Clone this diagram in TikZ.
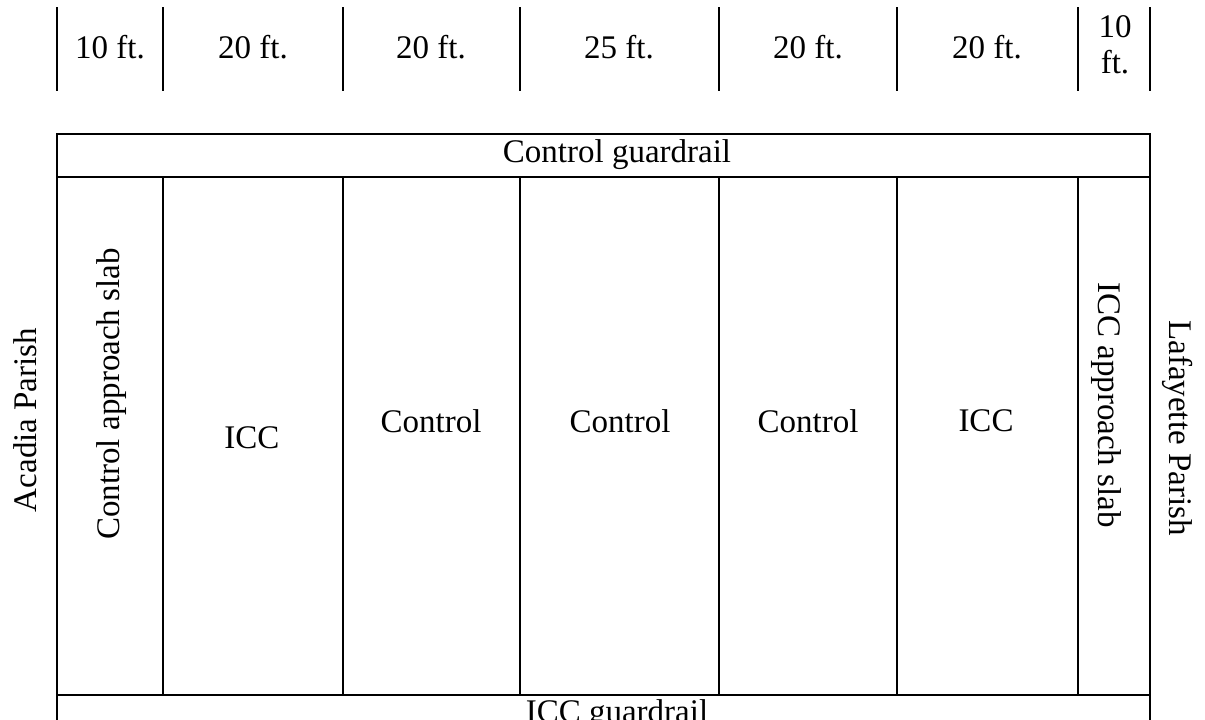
\documentclass[tikz,border=0pt]{standalone}
\usepackage{fontspec}
\setmainfont{Liberation Serif}
\usepackage{tikz}
\usetikzlibrary{positioning}

\begin{document}
\begin{tikzpicture}[x=0.5pt, y=-0.5pt, font=\fontsize{16.5}{18}\selectfont,
  wall/.style={line width=1.4pt, draw=black},
  lbl/.style={inner sep=1pt, align=center}]
  \useasboundingbox (0,0) rectangle (1205,719);

  % width ticks along the top
  \draw[wall] (57,7) -- (57,91);
  \draw[wall] (163,7) -- (163,91);
  \draw[wall] (343,7) -- (343,91);
  \draw[wall] (520,7) -- (520,91);
  \draw[wall] (719,7) -- (719,91);
  \draw[wall] (897,7) -- (897,91);
  \draw[wall] (1078,7) -- (1078,91);
  \draw[wall] (1150,7) -- (1150,91);

  \node[lbl] (w1) at (110,47) {10 ft.};
  \node[lbl] (w2) at (253,47) {20 ft.};
  \node[lbl] (w3) at (431,47) {20 ft.};
  \node[lbl] (w4) at (619,47) {25 ft.};
  \node[lbl] (w5) at (808,47) {20 ft.};
  \node[lbl] (w6) at (987,47) {20 ft.};
  \node[lbl] (w7) at (1115,45) {10\\ft.};

  % slab outline
  \draw[wall] (57,740) -- (57,134) -- (1150,134) -- (1150,740);
  \draw[wall] (57,177) -- (1150,177);
  \draw[wall] (57,695) -- (1150,695);
  \draw[wall] (163,177) -- (163,695);
  \draw[wall] (343,177) -- (343,695);
  \draw[wall] (520,177) -- (520,695);
  \draw[wall] (719,177) -- (719,695);
  \draw[wall] (897,177) -- (897,695);
  \draw[wall] (1078,177) -- (1078,695);

  \node[lbl] (topgr) at (617,155) {Control guardrail};
  \node[lbl, anchor=base] (botgr) at (617,722) {ICC guardrail};

  \node[lbl, rotate=90] (capp) at (112,394) {Control approach slab};
  \node[lbl] (s2) at (252,438) {ICC};
  \node[lbl] (s3) at (431,421) {Control};
  \node[lbl] (s4) at (620,421) {Control};
  \node[lbl] (s5) at (808,421) {Control};
  \node[lbl] (s6) at (986,421) {ICC};
  \node[lbl, rotate=-90] (iapp) at (1106,405) {ICC approach slab};

  \node[lbl, rotate=90] (acadia) at (25,420) {Acadia Parish};
  \node[lbl, rotate=-90] (lafay) at (1178,428) {Lafayette Parish};
\end{tikzpicture}
\end{document}
